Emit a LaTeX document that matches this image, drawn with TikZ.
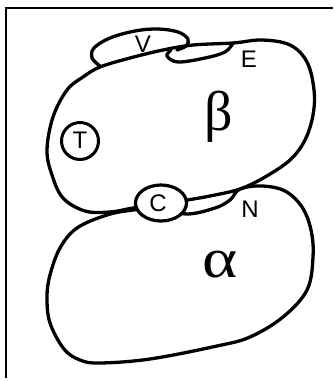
\documentclass[tikz,border=0pt]{standalone}
\usepackage{fontspec}
\setmainfont{Liberation Sans}
\newfontfamily\greekfont{Liberation Serif}
\usetikzlibrary{shapes.geometric}
\begin{document}
\begin{tikzpicture}[x=1pt,y=-1pt,
  blob/.style={line width=3.3pt, line join=round, line cap=round},
  lab/.style={font=\fontsize{24}{25}\selectfont, inner sep=0pt},
  glab/.style={font=\greekfont\fontsize{56}{58}\selectfont, inner sep=0pt}]
\useasboundingbox (0,0) rectangle (333,381);
% frame
\draw[line width=1.6pt] (6,378) -- (6,8) -- (333,8);
% beta region
\draw[blob] plot[smooth cycle, tension=0.6] coordinates {
 (133,208) (110,212) (85,211) (63,198) (52,175) (47,150) (53,117) (67,90)
 (83,77) (100,67) (130,58) (163,50) (193,45) (233,43) (262,40) (290,45)
 (307,62) (314,90) (313,115) (305,140) (290,160) (265,177) (240,189)
 (210,196) (187,200) (160,204)};
% alpha region
\draw[blob] plot[smooth cycle, tension=0.6] coordinates {
 (240,189) (262,186) (285,191) (302,207) (311,230) (313,257) (307,290)
 (283,317) (250,337) (217,346) (150,359) (100,363) (80,360) (64,349)
 (50,323) (47,297) (50,275) (60,248) (77,228) (107,215) (133,210)
 (160,208) (187,214) (215,208) (230,200)};
% E lobe
\draw[blob] plot[smooth, tension=0.6] coordinates {
 (171,50) (167,56) (178,62) (205,58) (225,52) (233,43)};
% V lens
\draw[blob] plot[smooth, tension=0.6] coordinates {
 (100,66) (92,58) (94,48) (110,38) (135,31) (158,29) (178,32) (188,39)
 (186,46) (177,50)};
% T, C circles
\node[draw, line width=3pt, ellipse, minimum width=37pt, minimum height=37pt, inner sep=0pt] (T) at (80,141) {};
\node[draw, fill=white, line width=3.2pt, ellipse, minimum width=51pt, minimum height=36pt, inner sep=0pt] (C) at (161,203) {};
% labels
\node[lab] (lT) at (80,140) {T};
\node[lab] (lC) at (158,203) {C};
\node[lab] (lV) at (143,44) {V};
\node[lab] (lE) at (249,59) {E};
\node[lab] (lN) at (250,209) {N};
\node[glab] (lb) at (219,117) {β};
\node[glab, xscale=1.2, transform shape] (la) at (220,265) {α};
\end{tikzpicture}
\end{document}
